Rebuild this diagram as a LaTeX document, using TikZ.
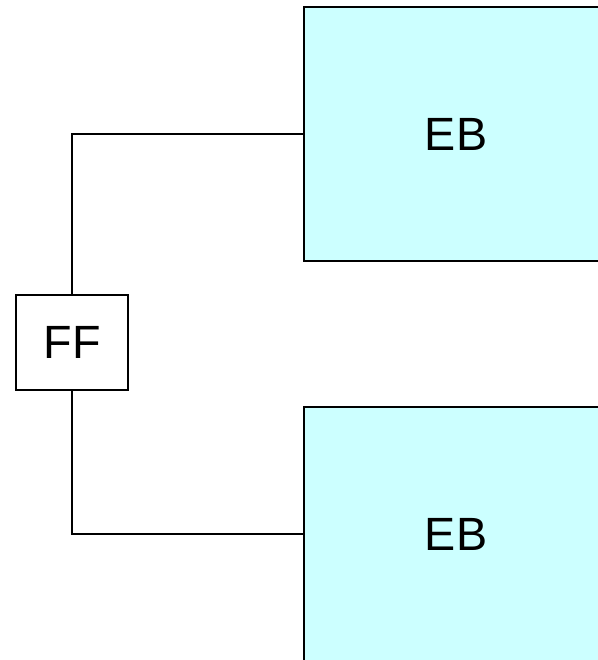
\documentclass[tikz,border=0pt]{standalone}
\usepackage{fontspec}
\setmainfont{Liberation Sans}
\definecolor{ebcyan}{RGB}{204,255,255}

\begin{document}
\begin{tikzpicture}
[x=0.75pt,y=-0.75pt,line width=1.5pt,
 ebbox/.style={draw,fill=ebcyan,minimum width=304*0.75pt,minimum height=254*0.75pt,inner sep=0pt,font=\fontsize{35}{40}\selectfont},
 ffbox/.style={draw,fill=white,minimum width=112*0.75pt,minimum height=95*0.75pt,inner sep=0pt,font=\fontsize{35}{40}\selectfont}]
\path[use as bounding box,clip] (0,0) rectangle (598,660);

\node[ebbox] (eb1) at (456,134) {EB};
\node[ebbox] (eb2) at (456,534) {EB};
\node[ffbox] (ff) at (72,342.5) {FF};

\foreach \from/\to in {eb1/north,eb2/south}
\draw (ff.\to) |- (\from.west);
\end{tikzpicture}
\end{document}
